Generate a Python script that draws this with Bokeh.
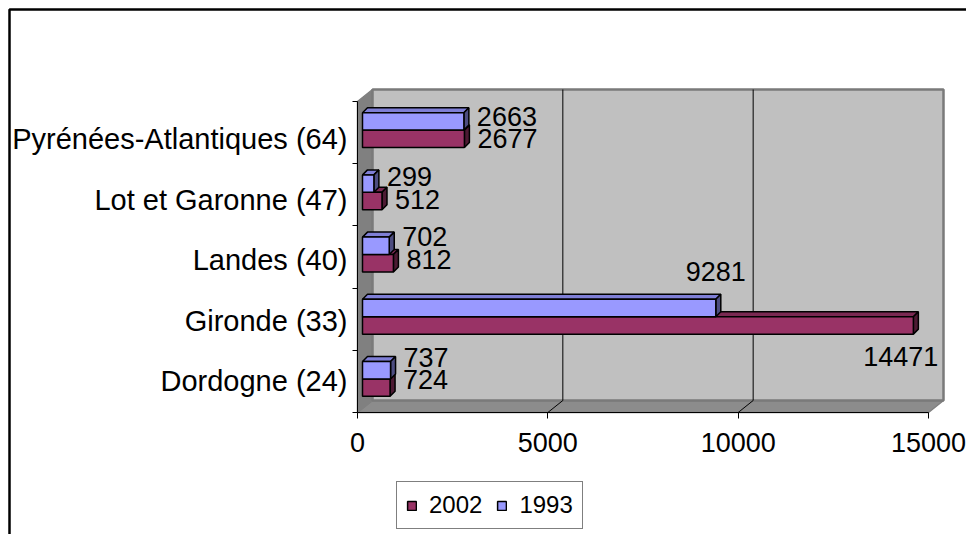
from bokeh.plotting import figure
from bokeh.models import Range1d, FixedTicker, Legend, LegendItem, LinearAxis
from bokeh.embed import file_html
from bokeh.resources import INLINE
from bokeh.core.properties import value

# ---------------- data ----------------
categories = ["Dordogne (24)", "Gironde (33)", "Landes (40)",
              "Lot et Garonne (47)", "Pyrénées-Atlantiques (64)"]
values_2002 = [724, 14471, 812, 512, 2677]
values_1993 = [737, 9281, 702, 299, 2663]
x_ticks = [0, 5000, 10000, 15000]
series_names = ["2002", "1993"]

# ---------------- geometry / style ----------------
FONT = "Liberation Sans"
W, H = 966, 534
X_MAX = 15000
ORIGIN_X, ORIGIN_Y = 357, 412   # pixel position of the front-plane origin
PX_PER_UNIT = 571.0 / X_MAX     # horizontal scale of the front plane
PX_PER_CAT = 62.2               # vertical size of one category
N = len(categories)

WX = 15 / PX_PER_UNIT           # wall depth
WY = 12 / PX_PER_CAT
BX = 5 / PX_PER_UNIT            # bar depth
BY = 5 / PX_PER_CAT
X0 = 5 / PX_PER_UNIT            # bar front face start


def dx(px):
    return (px - ORIGIN_X) / PX_PER_UNIT


def dy(py):
    return (ORIGIN_Y - py) / PX_PER_CAT


p = figure(width=W, height=H, output_backend="svg", toolbar_location=None,
           x_range=Range1d(dx(0), dx(W)), y_range=Range1d(dy(H), dy(0)),
           x_axis_location=None, y_axis_location=None,
           min_border=0, min_border_left=0, min_border_right=0,
           min_border_top=0, min_border_bottom=0)
p.outline_line_color = None
p.background_fill_color = "white"
p.border_fill_color = "white"
p.xgrid.visible = False
p.ygrid.visible = False

# outer chart border (continues beyond the window)
p.quad(left=[dx(9)], right=[dx(W + 30)], top=[dy(9)], bottom=[dy(H + 30)],
       fill_color=None, line_color="black", line_width=2.5)

# floor
p.patch([0, X_MAX, X_MAX + WX, WX], [0, 0, WY, WY],
        fill_color="#8C8C8C", line_color="#808080", line_width=1.5)
# side wall
p.patch([0, 0, WX, WX], [0, N, N + WY, WY],
        fill_color="#808080", line_color="#808080", line_width=1.5)
# back wall
p.quad(left=[WX], right=[X_MAX + WX], bottom=[WY], top=[N + WY],
       fill_color="#C0C0C0", line_color="#7A7A7A", line_width=2.5)
# gridlines
grid_vals = [t for t in x_ticks if 0 < t < X_MAX]
p.segment(x0=[g + WX for g in grid_vals], y0=[WY] * len(grid_vals),
          x1=[g + WX for g in grid_vals], y1=[N + WY] * len(grid_vals),
          line_color="black", line_width=1)
p.segment(x0=grid_vals, y0=[0] * len(grid_vals),
          x1=[g + WX for g in grid_vals], y1=[WY] * len(grid_vals),
          line_color="black", line_width=1)

colors = {
    "2002": ("#993366", "#7A2952", "#4D1A33"),
    "1993": ("#9999FF", "#7F7FD6", "#4D4D80"),
}
bar_pos = {"2002": (0.26, 0.54), "1993": (0.54, 0.82)}
front_renderers = {}
for name, vals in (("2002", values_2002), ("1993", values_1993)):
    front, top_c, side_c = colors[name]
    lo, hi = bar_pos[name]
    bots = [i + lo for i in range(N)]
    tops = [i + hi for i in range(N)]
    ends = [X0 + v for v in vals]
    p.patches(xs=[[X0, e, e + BX, X0 + BX] for e in ends],
              ys=[[t, t, t + BY, t + BY] for t in tops],
              fill_color=top_c, line_color="black", line_width=1.5)
    p.patches(xs=[[e, e, e + BX, e + BX] for e in ends],
              ys=[[b, t, t + BY, b + BY] for b, t in zip(bots, tops)],
              fill_color=side_c, line_color="black", line_width=1.5)
    front_renderers[name] = p.quad(left=[X0] * N, right=ends, bottom=bots, top=tops,
                                   fill_color=front, line_color="black", line_width=1.5)

# data labels
special = {("1993", "Gironde (33)"): "above", ("2002", "Gironde (33)"): "below"}
LABEL_SIZE = "27px"
for name, vals in (("2002", values_2002), ("1993", values_1993)):
    lo, hi = bar_pos[name]
    base = -5 if name == "1993" else 0
    idx = [i for i in range(N) if (name, categories[i]) not in special]
    p.text(x=[X0 + vals[i] for i in idx], y=[i + (lo + hi) / 2 for i in idx],
           text=[str(vals[i]) for i in idx],
           x_offset=13, y_offset=[base - 2 * (N - 1 - i) for i in idx],
           text_align="left", text_baseline="middle",
           text_font=value(FONT), text_font_size=value(LABEL_SIZE), text_color="black")
    for i, v in enumerate(vals):
        place = special.get((name, categories[i]))
        if place == "above":
            p.text(x=[X0 + v], y=[i + hi], text=[str(v)], x_offset=0, y_offset=-28,
                   text_align="center", text_baseline="middle",
                   text_font=value(FONT), text_font_size=value(LABEL_SIZE), text_color="black")
        elif place == "below":
            p.text(x=[X0 + v], y=[i + lo], text=[str(v)], x_offset=25, y_offset=22,
                   text_align="right", text_baseline="middle",
                   text_font=value(FONT), text_font_size=value(LABEL_SIZE), text_color="black")

# axes (placed on the front plane)
xa = LinearAxis(fixed_location=0, bounds=(0, X_MAX), ticker=FixedTicker(ticks=x_ticks))
xa.major_tick_out = 6
xa.major_tick_in = 0
xa.minor_tick_out = 0
xa.minor_tick_in = 0
xa.axis_line_color = "black"
xa.major_label_text_font = FONT
xa.major_label_text_font_size = "27px"
xa.major_label_text_color = "black"
xa.major_label_standoff = 14
p.add_layout(xa, "below")

label_pos = [0.5 + 0.973 * i for i in range(N)]
ya = LinearAxis(fixed_location=0, bounds=(0, N),
                ticker=FixedTicker(ticks=label_pos, minor_ticks=list(range(N + 1))))
ya.major_label_overrides = {pos: c for pos, c in zip(label_pos, categories)}
ya.major_tick_line_color = None
ya.major_tick_out = 0
ya.major_tick_in = 0
ya.minor_tick_out = 5
ya.minor_tick_in = 0
ya.minor_tick_line_color = "black"
ya.axis_line_color = "black"
ya.major_label_text_font = FONT
ya.major_label_text_font_size = "29px"
ya.major_label_text_color = "black"
ya.major_label_standoff = 5
p.add_layout(ya, "left")

# legend
legend = Legend(items=[LegendItem(label=n, renderers=[front_renderers[n]]) for n in series_names],
                orientation="horizontal", location=(396, 5), margin=0, padding=9,
                spacing=14, label_standoff=12, glyph_width=11, glyph_height=11,
                label_height=24, label_text_font=FONT, label_text_font_size="24px",
                label_text_color="black",
                border_line_color="black", border_line_width=1,
                background_fill_color="white", background_fill_alpha=1)
p.add_layout(legend, "center")

open("out.html", "w").write(file_html(p, INLINE))
